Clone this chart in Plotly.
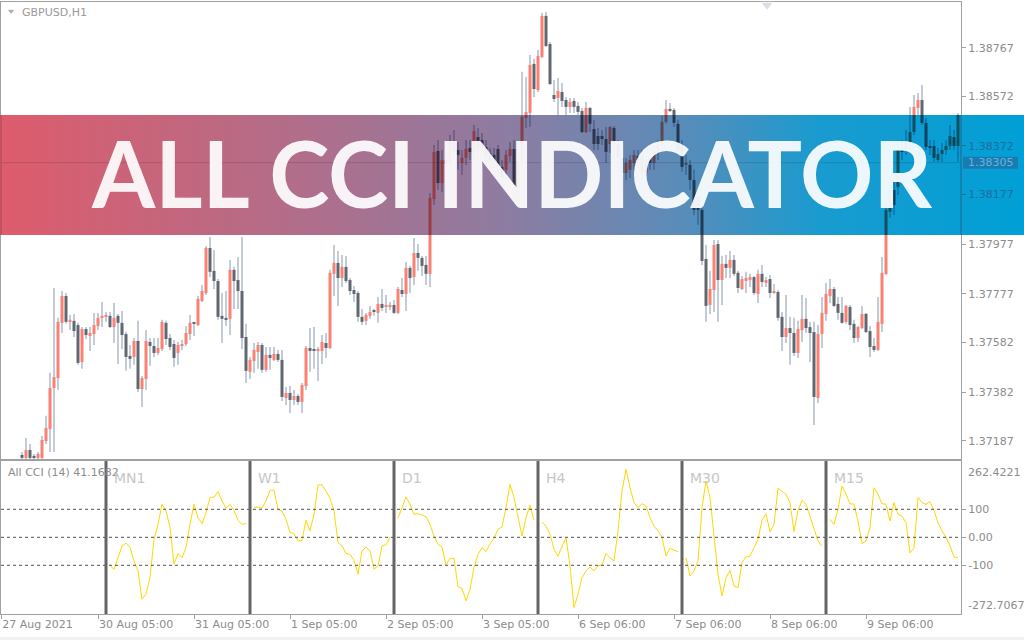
import plotly.graph_objects as go

W, H = 1024, 640

# ---------------- GBPUSD H1 candles ----------------
opens = [1.37130,1.37118,1.37150,1.37126,1.37118,1.37118,1.37186,1.37234,1.37399,1.37439,
         1.37661,1.37769,1.37665,1.37669,1.37652,1.37504,1.37636,1.37612,1.37616,1.37648,
         1.37681,1.37685,1.37689,1.37644,1.37689,1.37661,1.37616,1.37528,1.37524,1.37588,
         1.37395,1.37435,1.37584,1.37568,1.37540,1.37556,1.37661,1.37600,1.37576,1.37540,
         1.37568,1.37576,1.37616,1.37661,1.37652,1.37749,1.37781,1.37962,1.37870,1.37829,
         1.37689,1.37681,1.37677,1.37874,1.37833,1.37789,1.37604,1.37464,1.37508,1.37544,
         1.37572,1.37472,1.37532,1.37512,1.37536,1.37512,1.37359,1.37379,1.37351,1.37367,
         1.37343,1.37407,1.37560,1.37552,1.37548,1.37548,1.37580,1.37560,1.37858,1.37902,
         1.37841,1.37886,1.37833,1.37793,1.37781,1.37685,1.37669,1.37689,1.37709,1.37701,
         1.37737,1.37725,1.37725,1.37733,1.37701,1.37793,1.37777,1.37882,1.37845,1.37942,
         1.37922,1.37894,1.37858,1.38159,1.38352,1.38223,1.38316,1.38304,1.38388,1.38356,
         1.38304,1.38324,1.38364,1.38348,1.38408,1.38396,1.38368,1.38344,1.38336,1.38360,
         1.38288,1.38276,1.38332,1.38360,1.38207,1.38308,1.38485,1.38505,1.38702,1.38597,
         1.38730,1.38895,1.38782,1.38577,1.38565,1.38589,1.38557,1.38529,1.38553,1.38533,
         1.38513,1.38428,1.38525,1.38440,1.38412,1.38412,1.38400,1.38380,1.38444,1.38380,
         1.38324,1.38264,1.38276,1.38304,1.38332,1.38332,1.38264,1.38324,1.38304,1.38344,
         1.38376,1.38469,1.38521,1.38517,1.38461,1.38376,1.38296,1.38296,1.38235,1.38167,
         1.38115,1.37918,1.37733,1.37793,1.37978,1.37833,1.37898,1.37882,1.37914,1.37862,
         1.37797,1.37833,1.37837,1.37845,1.37777,1.37858,1.37825,1.37837,1.37781,1.37785,
         1.37685,1.37604,1.37640,1.37620,1.37540,1.37632,1.37677,1.37644,1.37624,1.37359,
         1.37616,1.37697,1.37769,1.37797,1.37737,1.37701,1.37665,1.37725,1.37657,1.37600,
         1.37640,1.37697,1.37628,1.37568,1.37552,1.37657,1.37858,1.38107,1.38195,1.38207,
         1.38356,1.38356,1.38388,1.38428,1.38525,1.38557,1.38465,1.38372,1.38372,1.38316,
         1.38340,1.38356,1.38372,1.38408,1.38372]
highs = [1.37142,1.37198,1.37174,1.37134,1.37142,1.37206,1.37287,1.37460,1.37801,1.37681,
         1.37789,1.37781,1.37693,1.37697,1.37661,1.37644,1.37644,1.37644,1.37701,1.37701,
         1.37745,1.37705,1.37705,1.37741,1.37697,1.37709,1.37624,1.37572,1.37600,1.37669,
         1.37447,1.37632,1.37600,1.37600,1.37600,1.37673,1.37669,1.37616,1.37592,1.37584,
         1.37592,1.37648,1.37693,1.37665,1.37769,1.37813,1.37970,1.38006,1.37954,1.37837,
         1.37781,1.37789,1.37914,1.37886,1.37926,1.38006,1.37657,1.37524,1.37580,1.37584,
         1.37580,1.37564,1.37564,1.37564,1.37552,1.37552,1.37403,1.37407,1.37391,1.37375,
         1.37419,1.37568,1.37640,1.37644,1.37564,1.37612,1.37620,1.37874,1.37974,1.37950,
         1.37934,1.37930,1.37841,1.37809,1.37789,1.37717,1.37701,1.37729,1.37717,1.37765,
         1.37797,1.37773,1.37745,1.37753,1.37805,1.37841,1.37906,1.37890,1.38002,1.37978,
         1.37930,1.37930,1.38183,1.38376,1.38396,1.38356,1.38348,1.38416,1.38436,1.38388,
         1.38356,1.38396,1.38396,1.38456,1.38444,1.38424,1.38396,1.38364,1.38364,1.38376,
         1.38316,1.38356,1.38388,1.38396,1.38324,1.38670,1.38649,1.38738,1.38722,1.38758,
         1.38907,1.38911,1.38790,1.38637,1.38645,1.38625,1.38569,1.38565,1.38565,1.38549,
         1.38525,1.38549,1.38529,1.38477,1.38444,1.38436,1.38448,1.38452,1.38452,1.38396,
         1.38328,1.38324,1.38336,1.38356,1.38356,1.38356,1.38336,1.38348,1.38364,1.38396,
         1.38493,1.38557,1.38545,1.38525,1.38477,1.38396,1.38336,1.38316,1.38276,1.38175,
         1.38135,1.37974,1.37870,1.37994,1.37994,1.37930,1.37934,1.37950,1.37934,1.37870,
         1.37849,1.37866,1.37858,1.37849,1.37874,1.37894,1.37845,1.37853,1.37817,1.37793,
         1.37705,1.37773,1.37685,1.37681,1.37669,1.37773,1.37761,1.37665,1.37665,1.37652,
         1.37765,1.37821,1.37837,1.37805,1.37765,1.37765,1.37733,1.37733,1.37673,1.37648,
         1.37729,1.37701,1.37648,1.37600,1.37765,1.37926,1.38175,1.38235,1.38235,1.38376,
         1.38396,1.38436,1.38529,1.38577,1.38585,1.38617,1.38485,1.38396,1.38396,1.38364,
         1.38384,1.38396,1.38456,1.38436,1.38505]
lows = [1.37114,1.37114,1.37114,1.37114,1.37114,1.37114,1.37174,1.37142,1.37142,1.37391,
        1.37620,1.37657,1.37632,1.37604,1.37492,1.37476,1.37596,1.37548,1.37572,1.37632,
        1.37644,1.37665,1.37640,1.37580,1.37496,1.37556,1.37468,1.37476,1.37492,1.37383,
        1.37323,1.37391,1.37488,1.37524,1.37532,1.37548,1.37572,1.37552,1.37484,1.37492,
        1.37552,1.37568,1.37592,1.37608,1.37648,1.37745,1.37773,1.37845,1.37797,1.37673,
        1.37580,1.37648,1.37612,1.37717,1.37717,1.37556,1.37419,1.37435,1.37460,1.37476,
        1.37460,1.37464,1.37472,1.37508,1.37504,1.37347,1.37331,1.37299,1.37331,1.37331,
        1.37299,1.37391,1.37464,1.37476,1.37427,1.37496,1.37520,1.37556,1.37769,1.37729,
        1.37805,1.37821,1.37773,1.37745,1.37665,1.37652,1.37652,1.37677,1.37689,1.37661,
        1.37709,1.37701,1.37713,1.37697,1.37697,1.37765,1.37709,1.37781,1.37813,1.37870,
        1.37849,1.37813,1.37805,1.38135,1.38195,1.38187,1.38276,1.38284,1.38324,1.38276,
        1.38255,1.38296,1.38316,1.38316,1.38336,1.38348,1.38296,1.38268,1.38276,1.38255,
        1.38215,1.38235,1.38308,1.38195,1.38175,1.38296,1.38444,1.38448,1.38569,1.38589,
        1.38726,1.38770,1.38617,1.38549,1.38497,1.38529,1.38497,1.38505,1.38505,1.38497,
        1.38424,1.38424,1.38428,1.38356,1.38356,1.38376,1.38304,1.38344,1.38316,1.38264,
        1.38183,1.38235,1.38243,1.38276,1.38284,1.38235,1.38235,1.38276,1.38276,1.38316,
        1.38356,1.38461,1.38509,1.38448,1.38336,1.38268,1.38255,1.38195,1.38095,1.38054,
        1.37894,1.37665,1.37697,1.37705,1.37665,1.37733,1.37841,1.37841,1.37849,1.37781,
        1.37793,1.37781,1.37805,1.37773,1.37741,1.37805,1.37805,1.37761,1.37777,1.37669,
        1.37548,1.37580,1.37492,1.37528,1.37520,1.37584,1.37620,1.37504,1.37250,1.37339,
        1.37560,1.37669,1.37741,1.37725,1.37673,1.37657,1.37657,1.37632,1.37580,1.37584,
        1.37636,1.37620,1.37524,1.37544,1.37548,1.37624,1.37853,1.38083,1.38095,1.38175,
        1.38316,1.38336,1.38356,1.38416,1.38497,1.38456,1.38356,1.38336,1.38308,1.38308,
        1.38308,1.38336,1.38356,1.38356,1.38308]
closes = [1.37118,1.37150,1.37118,1.37118,1.37134,1.37190,1.37238,1.37399,1.37443,1.37665,
          1.37769,1.37665,1.37673,1.37628,1.37500,1.37636,1.37612,1.37620,1.37652,1.37681,
          1.37685,1.37689,1.37644,1.37681,1.37661,1.37612,1.37524,1.37516,1.37588,1.37395,
          1.37439,1.37588,1.37568,1.37540,1.37560,1.37665,1.37596,1.37564,1.37520,1.37572,
          1.37576,1.37620,1.37661,1.37657,1.37757,1.37789,1.37962,1.37866,1.37829,1.37685,
          1.37677,1.37673,1.37874,1.37829,1.37789,1.37600,1.37468,1.37512,1.37552,1.37572,
          1.37472,1.37532,1.37520,1.37536,1.37512,1.37363,1.37379,1.37351,1.37367,1.37343,
          1.37411,1.37560,1.37548,1.37548,1.37552,1.37584,1.37560,1.37862,1.37902,1.37841,
          1.37886,1.37829,1.37789,1.37777,1.37685,1.37665,1.37693,1.37705,1.37705,1.37737,
          1.37721,1.37733,1.37733,1.37701,1.37797,1.37777,1.37882,1.37841,1.37942,1.37922,
          1.37890,1.37858,1.38163,1.38348,1.38223,1.38316,1.38300,1.38388,1.38352,1.38336,
          1.38324,1.38360,1.38348,1.38432,1.38364,1.38368,1.38336,1.38316,1.38308,1.38288,
          1.38247,1.38336,1.38360,1.38215,1.38308,1.38489,1.38509,1.38698,1.38601,1.38734,
          1.38895,1.38774,1.38621,1.38561,1.38593,1.38553,1.38529,1.38549,1.38529,1.38509,
          1.38428,1.38525,1.38461,1.38380,1.38380,1.38400,1.38348,1.38448,1.38376,1.38328,
          1.38264,1.38304,1.38316,1.38336,1.38316,1.38264,1.38320,1.38304,1.38348,1.38380,
          1.38469,1.38521,1.38513,1.38465,1.38356,1.38288,1.38304,1.38235,1.38115,1.38115,
          1.37910,1.37729,1.37797,1.37974,1.37833,1.37898,1.37882,1.37914,1.37858,1.37801,
          1.37837,1.37841,1.37845,1.37781,1.37858,1.37825,1.37833,1.37781,1.37785,1.37681,
          1.37604,1.37640,1.37620,1.37540,1.37636,1.37677,1.37640,1.37620,1.37363,1.37616,
          1.37701,1.37777,1.37797,1.37729,1.37701,1.37661,1.37729,1.37652,1.37600,1.37644,
          1.37697,1.37624,1.37564,1.37552,1.37665,1.37862,1.38115,1.38195,1.38135,1.38356,
          1.38348,1.38388,1.38428,1.38529,1.38557,1.38465,1.38368,1.38364,1.38324,1.38340,
          1.38356,1.38372,1.38412,1.38372,1.38497]

price_ticks = [1.38767, 1.38572, 1.38372, 1.38177, 1.37977, 1.37777, 1.37582, 1.37382, 1.37187]
price_labels = ["1.38767", "1.38572", "1.38372", "1.38177", "1.37977",
                "1.37777", "1.37582", "1.37382", "1.37187"]
bid_price = 1.38305
bid_label = "1.38305"

time_ticks = [-5.2, 19, 43, 67, 91, 115, 139, 163, 187, 211]
time_labels = ["27 Aug 2021", "30 Aug 05:00", "31 Aug 05:00", "1 Sep 05:00", "2 Sep 05:00",
               "3 Sep 05:00", "6 Sep 06:00", "7 Sep 06:00", "8 Sep 06:00", "9 Sep 06:00"]

# ---------------- All CCI (14) sub-window ----------------
cci_names = ["MN1", "W1", "D1", "H4", "M30", "M15"]
cci_mn1 = [-100,-115,-73,-31,-21,-35,-84,-120,-221,-203,-144,-7,46,118,94,35,-96,-58,-73,-37,
           46,118,70,49,88,142,144,163,130,104,118,96,61,46,49]
cci_w1 = [108,108,104,130,168,168,100,94,64,17,13,-13,-11,61,23,82,187,187,165,139,
          94,-19,-31,-58,-61,-82,-132,-49,-35,-49,-114,-102,-31,-27,1]
cci_d1 = [68,106,144,118,82,84,80,73,46,5,-25,-35,-99,-75,-75,-177,-182,-227,-186,-108,
          -61,-37,-51,-23,-4,29,37,106,189,142,70,5,70,115,61]
cci_h4 = [55,40,11,-43,-67,-31,-1,-102,-251,-203,-144,-120,-106,-120,-102,-99,-58,-73,-84,23,
          165,243,177,124,106,120,112,70,40,23,1,-67,-39,-46,-51]
cci_m30 = [-73,-138,-120,-84,106,201,142,-1,-132,-209,-144,-118,-174,-180,-90,-70,-67,-37,-7,61,
           84,20,46,175,163,154,124,20,96,132,118,76,35,-13,-31]
cci_m15 = [64,46,100,183,154,120,118,58,-23,-13,35,177,154,120,118,58,124,82,76,52,
           -55,-39,142,124,118,127,96,52,23,1,-31,-70,-73]
cci_series = [cci_mn1, cci_w1, cci_d1, cci_h4, cci_m30, cci_m15]
separators = [21, 57, 93, 129, 165, 201]
cci_levels = [100, 0, -100]
cci_level_labels = ["100", "0.00", "-100"]
cci_max, cci_min = 262.4221, -272.7067
cci_period, cci_current = 14, 41.1682

# ---------------- geometry / style ----------------
def px(x):
    return x / W

def py(y):
    return 1 - y / H

X_DOM = [px(1), px(961)]
MAIN_DOM = [py(459), py(2)]
CCI_DOM = [py(614), py(461)]
X_RANGE = [-5.25, 234.75]
P_RANGE = [1.371136, 1.389508]
C_RANGE = [-273.9, 272.5]
BAN_T, BAN_B = 115, 235

BULL = (250, 128, 114)
BEAR = (96, 103, 113)
WICK = (195, 203, 217)
AXIS_C = "#a0a0a0"
TXT_C = "#8c8c8c"
FONT = "DejaVu Sans"

GRAD = [(0.0, (222, 92, 108)), (0.33, (171, 112, 142)), (0.5, (140, 125, 162)),
        (0.664, (90, 140, 185)), (0.8, (25, 155, 207)), (1.0, (0, 160, 214))]


def grad_at(t):
    t = min(max(t, 0.0), 1.0)
    for (t0, c0), (t1, c1) in zip(GRAD, GRAD[1:]):
        if t <= t1:
            f = (t - t0) / (t1 - t0)
            return tuple(a + (b - a) * f for a, b in zip(c0, c1))
    return GRAD[-1][1]


def mult(c, t):
    g = grad_at(t)
    return "rgb(%d,%d,%d)" % tuple(round(a * b / 255) for a, b in zip(c, g))


def rgb(c):
    return "rgb(%d,%d,%d)" % c


def paper_x_of_index(i):
    return X_DOM[0] + (i - X_RANGE[0]) / (X_RANGE[1] - X_RANGE[0]) * (X_DOM[1] - X_DOM[0])


def price_of_pixel(y):
    f = (py(y) - MAIN_DOM[0]) / (MAIN_DOM[1] - MAIN_DOM[0])
    return P_RANGE[0] + f * (P_RANGE[1] - P_RANGE[0])


n = len(opens)
idx = list(range(n))
MIN_BODY = 0.00003
body_lo = [min(o, c) for o, c in zip(opens, closes)]
body_hi = [max(max(o, c), min(o, c) + MIN_BODY) for o, c in zip(opens, closes)]
is_bull = [c >= o for o, c in zip(opens, closes)]

fig = go.Figure()

# main candles
fig.add_trace(go.Bar(x=idx, y=[h - l for h, l in zip(highs, lows)], base=lows, width=0.25,
                     marker=dict(color=rgb(WICK), line=dict(width=0)),
                     xaxis="x", yaxis="y", hoverinfo="skip"))
fig.add_trace(go.Bar(x=idx, y=[h - l for h, l in zip(body_hi, body_lo)], base=body_lo, width=0.75,
                     marker=dict(color=[rgb(BULL) if b else rgb(BEAR) for b in is_bull], line=dict(width=0)),
                     xaxis="x", yaxis="y", hoverinfo="skip"))

# CCI lines, one per timeframe block
for name, sep, vals in zip(cci_names, separators, cci_series):
    fig.add_trace(go.Scatter(x=[sep + 1 + j for j in range(len(vals))], y=vals, mode="lines",
                             line=dict(color="#ffd700", width=1), name=name,
                             xaxis="x2", yaxis="y2", hoverinfo="skip"))

# decorations on a full-page pixel layer
fig.add_trace(go.Scatter(x=[11, 767], y=[11, 5], mode="markers",
                         marker=dict(symbol="triangle-down", size=[7, 11], color=["#8c8c8c", "#ccd3de"]),
                         xaxis="x3", yaxis="y3", hoverinfo="skip"))
fig.add_trace(go.Scatter(x=[0, W, W, 0, 0], y=[BAN_T, BAN_T, BAN_B, BAN_B, BAN_T], mode="lines",
                         fill="toself", line=dict(width=0),
                         fillgradient=dict(type="horizontal",
                                           colorscale=[[t, rgb(c)] for t, c in GRAD]),
                         xaxis="x3", yaxis="y3", hoverinfo="skip"))

# candle parts seen through the banner (multiplied colours)
p_top, p_bot = price_of_pixel(BAN_T), price_of_pixel(BAN_B)
wx, wb, wh, wc = [], [], [], []
bx, bb, bh, bc = [], [], [], []
for i in idx:
    t = paper_x_of_index(i)
    lo, hi = max(lows[i], p_bot), min(highs[i], p_top)
    if hi > lo:
        wx.append(i); wb.append(lo); wh.append(hi - lo); wc.append(mult(WICK, t))
    lo, hi = max(body_lo[i], p_bot), min(body_hi[i], p_top)
    if hi > lo:
        bx.append(i); bb.append(lo); bh.append(hi - lo)
        bc.append(mult(BULL if is_bull[i] else BEAR, t))
fig.add_trace(go.Bar(x=wx, y=wh, base=wb, width=0.25, marker=dict(color=wc, line=dict(width=0)),
                     xaxis="x4", yaxis="y4", hoverinfo="skip"))
fig.add_trace(go.Bar(x=bx, y=bh, base=bb, width=0.75, marker=dict(color=bc, line=dict(width=0)),
                     xaxis="x4", yaxis="y4", hoverinfo="skip"))

band_ticks = [v for v in price_ticks if p_bot < v < p_top]
band_labels = [l for v, l in zip(price_ticks, price_labels) if p_bot < v < p_top]

tickfont = dict(family=FONT, size=11, color=TXT_C)
common = dict(showgrid=False, zeroline=False)

shapes = []
for lv in cci_levels:
    shapes.append(dict(type="line", xref="x2 domain", x0=0, x1=1, yref="y2", y0=lv, y1=lv,
                       line=dict(color="#505050", width=1, dash="3px,3px")))
for s in separators:
    shapes.append(dict(type="line", xref="x2", x0=s, x1=s, yref="y2 domain", y0=0, y1=1,
                       line=dict(color="#646464", width=3)))
# bid line and bid price box
dp = 6 * (P_RANGE[1] - P_RANGE[0]) / ((MAIN_DOM[1] - MAIN_DOM[0]) * H)
shapes.append(dict(type="line", xref="x", x0=X_RANGE[0], x1=X_RANGE[1], yref="y",
                   y0=bid_price, y1=bid_price, line=dict(color="rgba(0,0,0,0.13)", width=1), layer="above"))
shapes.append(dict(type="rect", xref="paper", x0=px(963), x1=px(1018), yref="y",
                   y0=bid_price - dp, y1=bid_price + dp, fillcolor="#1b7bb0", line=dict(width=0), layer="above"))
# borders seen through banner
shapes.append(dict(type="line", xref="paper", x0=px(961), x1=px(961), yref="paper", y0=py(BAN_B), y1=py(BAN_T),
                   line=dict(color="#1d6690", width=1), layer="above"))
shapes.append(dict(type="line", xref="paper", x0=px(1), x1=px(1), yref="paper", y0=py(BAN_B), y1=py(BAN_T),
                   line=dict(color="#a04a56", width=1), layer="above"))
# bottom status strip
shapes.append(dict(type="rect", xref="paper", x0=0, x1=1, yref="paper", y0=0, y1=py(637),
                   fillcolor="#f0f0f0", line=dict(width=0), layer="below"))

annotations = [
    dict(text="ALL CCI INDICATOR", xref="paper", yref="paper", x=px(511), y=py(172),
         xanchor="center", yanchor="middle", showarrow=False, opacity=0.92,
         font=dict(family="Lato", size=91, color="white", weight="bold")),
    dict(text="GBPUSD,H1", xref="paper", yref="paper", x=px(20), y=py(13), xanchor="left",
         yanchor="middle", showarrow=False, font=dict(family=FONT, size=11, color="#9a9a9a")),
    dict(text="All CCI (%d) %.4f" % (cci_period, cci_current), xref="paper", yref="paper",
         x=px(6), y=py(472), xanchor="left", yanchor="middle", showarrow=False,
         font=dict(family=FONT, size=11, color="#8c8c8c")),
    dict(text="%.4f" % cci_max, xref="paper", yref="y2", x=px(966), y=cci_max, xanchor="left",
         yanchor="top", showarrow=False, font=tickfont),
    dict(text="%.4f" % cci_min, xref="paper", yref="y2", x=px(966), y=cci_min, xanchor="left",
         yanchor="bottom", showarrow=False, font=tickfont),
    dict(text=bid_label, xref="paper", yref="y", x=px(966), y=bid_price, xanchor="left",
         yanchor="middle", showarrow=False, font=dict(family=FONT, size=11, color="#62b4df")),
]
for name, s in zip(cci_names, separators):
    annotations.append(dict(text=name, xref="x2", yref="y2 domain", x=s + 1.6, y=0.889,
                            xanchor="left", yanchor="middle", showarrow=False,
                            font=dict(family=FONT, size=14, color="#c6c6c6")))

fig.update_layout(
    width=W, height=H, margin=dict(l=0, r=0, t=0, b=0),
    paper_bgcolor="white", plot_bgcolor="rgba(0,0,0,0)",
    showlegend=False, barmode="overlay",
    xaxis=dict(domain=X_DOM, range=X_RANGE, anchor="y", showticklabels=False, ticks="",
               showline=True, mirror=True, linecolor=AXIS_C, linewidth=1, **common),
    yaxis=dict(domain=MAIN_DOM, range=P_RANGE, anchor="x", side="right",
               tickvals=price_ticks, ticktext=price_labels, ticks="outside", ticklen=4,
               tickcolor=AXIS_C, tickfont=tickfont, showline=True, mirror=True,
               linecolor=AXIS_C, linewidth=1, **common),
    xaxis2=dict(domain=X_DOM, range=X_RANGE, anchor="y2", tickvals=time_ticks, ticktext=time_labels,
                ticks="outside", ticklen=4, tickcolor=AXIS_C, tickfont=tickfont,
                ticklabelposition="outside right", showline=True, mirror=True,
                linecolor=AXIS_C, linewidth=1, **common),
    yaxis2=dict(domain=CCI_DOM, range=C_RANGE, anchor="x2", side="right",
                tickvals=cci_levels, ticktext=cci_level_labels, ticks="outside", ticklen=4,
                tickcolor=AXIS_C, tickfont=tickfont, showline=True, mirror=True,
                linecolor=AXIS_C, linewidth=1, **common),
    xaxis3=dict(domain=[0, 1], range=[0, W], anchor="y3", visible=False),
    yaxis3=dict(domain=[0, 1], range=[H, 0], anchor="x3", visible=False),
    xaxis4=dict(domain=X_DOM, range=X_RANGE, anchor="y4", visible=False),
    yaxis4=dict(domain=MAIN_DOM, range=P_RANGE, anchor="x4", side="right",
                tickvals=band_ticks, ticktext=band_labels, ticks="outside", ticklen=4,
                tickcolor="#1d6e9e", tickfont=dict(family=FONT, size=11, color="#1d6e9e"),
                showline=False, **common),
    shapes=shapes, annotations=annotations,
)

fig.write_html("out.html", config={"displayModeBar": False},
               post_script="document.body.style.margin='0';document.body.style.overflow='hidden';")
